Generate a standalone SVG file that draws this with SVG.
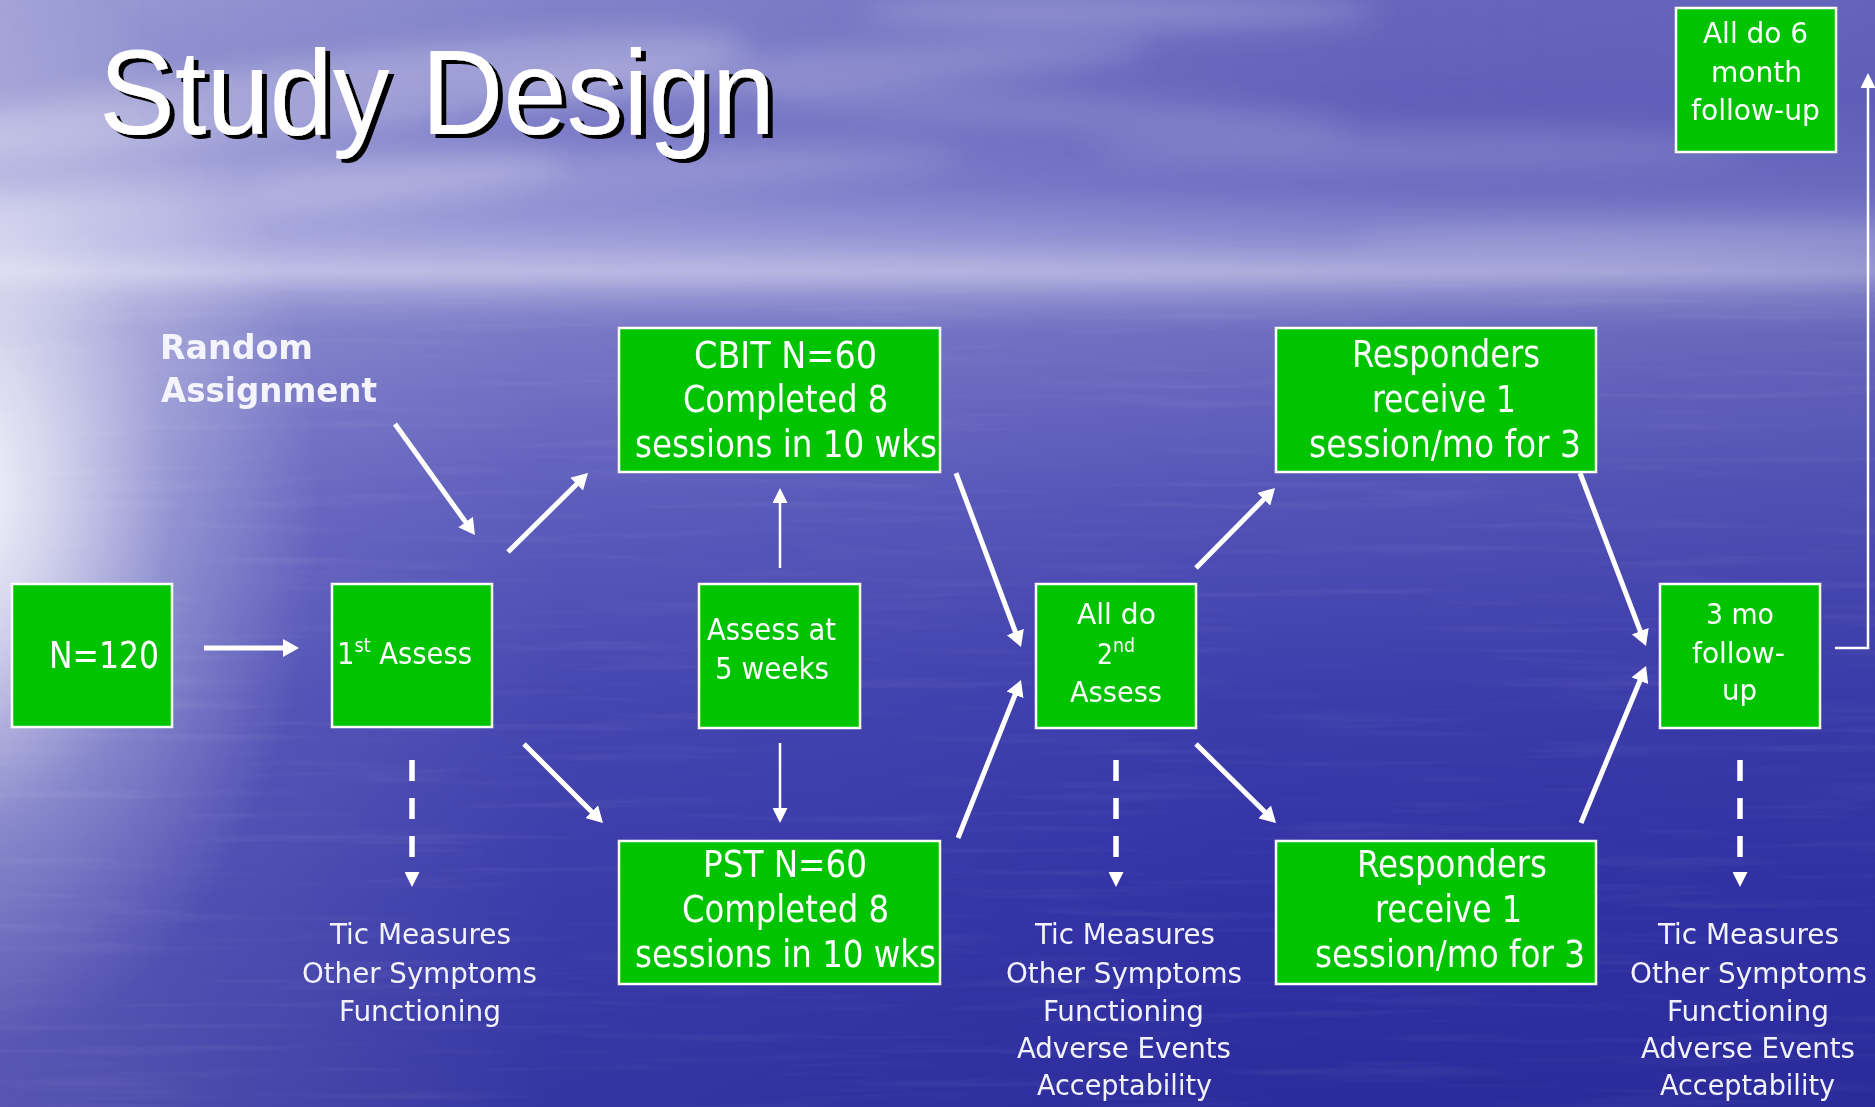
<svg xmlns="http://www.w3.org/2000/svg" width="1875" height="1107" viewBox="0 0 1875 1107">
  <defs>
    <style>
      .box { fill: #00c400; stroke: #ffffff; stroke-width: 2.5; }
      .bt { font-family: "DejaVu Sans Condensed", "DejaVu Sans", sans-serif; font-stretch: condensed; fill: #ffffff; }
      .big { font-size: 37px; }
      .mid { font-size: 31px; }
      .sm { font-size: 29px; }
      .sup { font-size: 20px; }
      .note { font-family: "DejaVu Sans Condensed", "DejaVu Sans", sans-serif; font-stretch: condensed; font-size: 29px; fill: #f2f2fb; }
      .thick { fill: none; stroke: #ffffff; stroke-width: 5; }
      .thin { fill: none; stroke: #ffffff; stroke-width: 2.5; }
      .dash { fill: none; stroke: #ffffff; stroke-width: 5.5; stroke-dasharray: 21 17; }
    </style>
    <linearGradient id="sky" x1="0" y1="0" x2="0" y2="1107" gradientUnits="userSpaceOnUse">
      <stop offset="0" stop-color="#8686cc"/>
      <stop offset="0.09" stop-color="#7878c6"/>
      <stop offset="0.17" stop-color="#8686cf"/>
      <stop offset="0.21" stop-color="#9c9cda"/>
      <stop offset="0.245" stop-color="#acacdf"/>
      <stop offset="0.265" stop-color="#8c8cd0"/>
      <stop offset="0.30" stop-color="#7272c4"/>
      <stop offset="0.45" stop-color="#5656ba"/>
      <stop offset="0.63" stop-color="#3e3eae"/>
      <stop offset="0.82" stop-color="#3232a6"/>
      <stop offset="1" stop-color="#2c2c9e"/>
    </linearGradient>
    <linearGradient id="sideShade" x1="0" y1="0" x2="1875" y2="0" gradientUnits="userSpaceOnUse">
      <stop offset="0" stop-color="#ffffff" stop-opacity="0.2"/>
      <stop offset="0.3" stop-color="#ffffff" stop-opacity="0.04"/>
      <stop offset="0.65" stop-color="#20208a" stop-opacity="0.05"/>
      <stop offset="1" stop-color="#20208a" stop-opacity="0.15"/>
    </linearGradient>
    <linearGradient id="topShade" x1="0" y1="0" x2="1875" y2="0" gradientUnits="userSpaceOnUse">
      <stop offset="0" stop-color="#3838aa" stop-opacity="0"/>
      <stop offset="0.35" stop-color="#3838aa" stop-opacity="0.12"/>
      <stop offset="0.75" stop-color="#3838aa" stop-opacity="0.35"/>
      <stop offset="1" stop-color="#3838aa" stop-opacity="0.3"/>
    </linearGradient>
    <linearGradient id="topFade" x1="0" y1="0" x2="0" y2="300" gradientUnits="userSpaceOnUse">
      <stop offset="0" stop-color="#ffffff" stop-opacity="1"/>
      <stop offset="0.6" stop-color="#ffffff" stop-opacity="0.7"/>
      <stop offset="1" stop-color="#ffffff" stop-opacity="0"/>
    </linearGradient>
    <mask id="topMask">
      <rect x="0" y="0" width="1875" height="300" fill="url(#topFade)"/>
    </mask>
    <radialGradient id="glow" cx="-50" cy="500" r="1" gradientUnits="userSpaceOnUse" gradientTransform="translate(-50 500) scale(370 560) translate(50 -500)">
      <stop offset="0" stop-color="#ffffff" stop-opacity="0.98"/>
      <stop offset="0.28" stop-color="#ffffff" stop-opacity="0.68"/>
      <stop offset="0.6" stop-color="#ffffff" stop-opacity="0.26"/>
      <stop offset="1" stop-color="#ffffff" stop-opacity="0"/>
    </radialGradient>
    <filter id="soft" x="-30%" y="-200%" width="160%" height="500%">
      <feGaussianBlur stdDeviation="14"/>
    </filter>
    <filter id="ripple" x="0" y="0" width="100%" height="100%">
      <feTurbulence type="fractalNoise" baseFrequency="0.004 0.09" numOctaves="3" seed="7"/>
      <feColorMatrix type="matrix" values="0 0 0 0 1  0 0 0 0 1  0 0 0 0 1  0 0 0 1.4 -0.72"/>
    </filter>
    <filter id="dropShadow" x="-5%" y="-20%" width="115%" height="150%">
      <feOffset in="SourceAlpha" dx="5" dy="4" result="off"/>
      <feFlood flood-color="#000000"/>
      <feComposite in2="off" operator="in" result="shadow"/>
      <feMerge>
        <feMergeNode in="shadow"/>
        <feMergeNode in="SourceGraphic"/>
      </feMerge>
    </filter>
    <marker id="headThick" markerUnits="userSpaceOnUse" markerWidth="17" markerHeight="18" refX="6" refY="9" orient="auto">
      <path d="M0,0 L16,9 L0,18 z" fill="#ffffff"/>
    </marker>
    <marker id="headThin" markerUnits="userSpaceOnUse" markerWidth="16" markerHeight="15" refX="5" refY="7.5" orient="auto">
      <path d="M0,0 L15,7.5 L0,15 z" fill="#ffffff"/>
    </marker>
    <marker id="headDash" markerUnits="userSpaceOnUse" markerWidth="16" markerHeight="15" refX="0" refY="7.5" orient="auto">
      <path d="M0,0 L15,7.5 L0,15 z" fill="#ffffff"/>
    </marker>
  </defs>

  <!-- sky, horizon and sea backdrop -->
  <g id="backdrop">
    <rect x="0" y="0" width="1875" height="1107" fill="url(#sky)"/>
    <rect x="0" y="0" width="1875" height="1107" fill="url(#sideShade)"/>
    <rect x="0" y="0" width="1875" height="300" fill="url(#topShade)" mask="url(#topMask)"/>
    <g filter="url(#soft)" fill="#ffffff">
      <ellipse cx="330" cy="95" rx="420" ry="38" opacity="0.26" transform="rotate(-7 330 95)"/>
      <ellipse cx="250" cy="190" rx="320" ry="30" opacity="0.2" transform="rotate(-5 250 190)"/>
      <ellipse cx="820" cy="70" rx="330" ry="22" opacity="0.18" transform="rotate(-4 820 70)"/>
      <ellipse cx="1120" cy="12" rx="260" ry="16" opacity="0.22"/>
      <ellipse cx="1050" cy="110" rx="300" ry="18" opacity="0.14" transform="rotate(3 1050 110)"/>
      <ellipse cx="1420" cy="150" rx="330" ry="20" opacity="0.12"/>
      <ellipse cx="600" cy="175" rx="360" ry="20" opacity="0.16" transform="rotate(-3 600 175)"/>
      <ellipse cx="940" cy="275" rx="960" ry="18" opacity="0.2"/>
      <ellipse cx="1650" cy="240" rx="300" ry="14" opacity="0.16"/>
    </g>
    <rect x="0" y="290" width="1875" height="817" filter="url(#ripple)" opacity="0.11"/>
    <rect x="0" y="0" width="1875" height="1107" fill="url(#glow)"/>
  </g>

  <!-- heading -->
  <g id="title">
    <text x="99" y="134" font-family="'Liberation Sans', Arial, sans-serif" font-size="120" fill="#ffffff" textLength="676" lengthAdjust="spacingAndGlyphs" filter="url(#dropShadow)">Study Design</text>
  </g>

  <g id="random-assignment" font-family="'DejaVu Sans', sans-serif" font-weight="bold" font-size="33" fill="#f4f4fc">
    <text x="160" y="359" textLength="153" lengthAdjust="spacingAndGlyphs">Random</text>
    <text x="161" y="402" textLength="216" lengthAdjust="spacingAndGlyphs">Assignment</text>
  </g>

  <!-- connectors -->
  <g id="connectors">
    <path class="thick" d="M204,648 L289,648" marker-end="url(#headThick)"/>
    <path class="thick" d="M395,424 L469.1,526.9" marker-end="url(#headThick)"/>
    <path class="thick" d="M508,552 L580.9,480" marker-end="url(#headThick)"/>
    <path class="thick" d="M524,744 L595.9,815.9" marker-end="url(#headThick)"/>
    <path class="thick" d="M956,473 L1017.5,637.6" marker-end="url(#headThick)"/>
    <path class="thick" d="M958,838 L1017.3,689.3" marker-end="url(#headThick)"/>
    <path class="thick" d="M1196,568 L1268,495.1" marker-end="url(#headThick)"/>
    <path class="thick" d="M1196,744 L1268.9,816" marker-end="url(#headThick)"/>
    <path class="thick" d="M1580,473 L1642.4,636.7" marker-end="url(#headThick)"/>
    <path class="thick" d="M1581,823 L1642.2,675.2" marker-end="url(#headThick)"/>
    <path class="thin" d="M780,568 L780,498" marker-end="url(#headThin)"/>
    <path class="thin" d="M780,743 L780,813" marker-end="url(#headThin)"/>
    <path class="thin" d="M1835,648 L1868,648 L1868,83" marker-end="url(#headThin)"/>
    <path class="dash" d="M412,760 L412,872" marker-end="url(#headDash)"/>
    <path class="dash" d="M1116,760 L1116,872" marker-end="url(#headDash)"/>
    <path class="dash" d="M1740,760 L1740,872" marker-end="url(#headDash)"/>
  </g>

  <!-- process boxes -->
  <g id="n120">
    <rect class="box" x="12" y="584" width="160" height="143"/>
    <text class="bt big" x="49" y="668" textLength="110" lengthAdjust="spacingAndGlyphs">N=120</text>
  </g>

  <g id="assess1">
    <rect class="box" x="332" y="584" width="160" height="143"/>
    <text class="bt mid" x="337" y="664" textLength="135" lengthAdjust="spacingAndGlyphs">1<tspan class="sup" dy="-12">st</tspan><tspan dy="12"> Assess</tspan></text>
  </g>

  <g id="cbit">
    <rect class="box" x="619" y="328" width="321" height="144"/>
    <text class="bt big" x="694" y="368" textLength="183" lengthAdjust="spacingAndGlyphs">CBIT N=60</text>
    <text class="bt big" x="683" y="412" textLength="205" lengthAdjust="spacingAndGlyphs">Completed 8</text>
    <text class="bt big" x="635" y="457" textLength="302" lengthAdjust="spacingAndGlyphs">sessions in 10 wks</text>
  </g>

  <g id="assess5">
    <rect class="box" x="699" y="584" width="161" height="144"/>
    <text class="bt mid" x="707" y="640" textLength="129" lengthAdjust="spacingAndGlyphs">Assess at</text>
    <text class="bt mid" x="715" y="679" textLength="114" lengthAdjust="spacingAndGlyphs">5 weeks</text>
  </g>

  <g id="pst">
    <rect class="box" x="619" y="841" width="321" height="143"/>
    <text class="bt big" x="703" y="877" textLength="164" lengthAdjust="spacingAndGlyphs">PST N=60</text>
    <text class="bt big" x="682" y="922" textLength="207" lengthAdjust="spacingAndGlyphs">Completed 8</text>
    <text class="bt big" x="635" y="967" textLength="301" lengthAdjust="spacingAndGlyphs">sessions in 10 wks</text>
  </g>

  <g id="assess2">
    <rect class="box" x="1036" y="584" width="160" height="144"/>
    <text class="bt sm" x="1077" y="624" textLength="79" lengthAdjust="spacingAndGlyphs">All do</text>
    <text class="bt sm" x="1097" y="664" textLength="38" lengthAdjust="spacingAndGlyphs">2<tspan class="sup" dy="-12">nd</tspan></text>
    <text class="bt sm" x="1070" y="702" textLength="92" lengthAdjust="spacingAndGlyphs">Assess</text>
  </g>

  <g id="responders-top">
    <rect class="box" x="1276" y="328" width="320" height="144"/>
    <text class="bt big" x="1352" y="367" textLength="188" lengthAdjust="spacingAndGlyphs">Responders</text>
    <text class="bt big" x="1372" y="412" textLength="144" lengthAdjust="spacingAndGlyphs">receive 1</text>
    <text class="bt big" x="1309" y="457" textLength="272" lengthAdjust="spacingAndGlyphs">session/mo for 3</text>
  </g>

  <g id="responders-bottom">
    <rect class="box" x="1276" y="841" width="320" height="143"/>
    <text class="bt big" x="1357" y="877" textLength="190" lengthAdjust="spacingAndGlyphs">Responders</text>
    <text class="bt big" x="1375" y="922" textLength="147" lengthAdjust="spacingAndGlyphs">receive 1</text>
    <text class="bt big" x="1315" y="967" textLength="270" lengthAdjust="spacingAndGlyphs">session/mo for 3</text>
  </g>

  <g id="followup3">
    <rect class="box" x="1660" y="584" width="160" height="144"/>
    <text class="bt sm" x="1706" y="624" textLength="68" lengthAdjust="spacingAndGlyphs">3 mo</text>
    <text class="bt sm" x="1692" y="663" textLength="93" lengthAdjust="spacingAndGlyphs">follow-</text>
    <text class="bt sm" x="1722" y="700" textLength="35" lengthAdjust="spacingAndGlyphs">up</text>
  </g>

  <g id="followup6">
    <rect class="box" x="1676" y="8" width="160" height="144"/>
    <text class="bt sm" x="1703" y="43" textLength="105" lengthAdjust="spacingAndGlyphs">All do 6</text>
    <text class="bt sm" x="1711" y="82" textLength="91" lengthAdjust="spacingAndGlyphs">month</text>
    <text class="bt sm" x="1691" y="120" textLength="129" lengthAdjust="spacingAndGlyphs">follow-up</text>
  </g>

  <!-- measures collected at each assessment -->
  <g id="measures1">
    <text class="note" x="330" y="944" textLength="181" lengthAdjust="spacingAndGlyphs">Tic Measures</text>
    <text class="note" x="302" y="983" textLength="235" lengthAdjust="spacingAndGlyphs">Other Symptoms</text>
    <text class="note" x="339" y="1021" textLength="162" lengthAdjust="spacingAndGlyphs">Functioning</text>
  </g>

  <g id="measures2">
    <text class="note" x="1035" y="944" textLength="180" lengthAdjust="spacingAndGlyphs">Tic Measures</text>
    <text class="note" x="1006" y="983" textLength="236" lengthAdjust="spacingAndGlyphs">Other Symptoms</text>
    <text class="note" x="1043" y="1021" textLength="161" lengthAdjust="spacingAndGlyphs">Functioning</text>
    <text class="note" x="1017" y="1058" textLength="214" lengthAdjust="spacingAndGlyphs">Adverse Events</text>
    <text class="note" x="1037" y="1095" textLength="175" lengthAdjust="spacingAndGlyphs">Acceptability</text>
  </g>

  <g id="measures3">
    <text class="note" x="1658" y="944" textLength="181" lengthAdjust="spacingAndGlyphs">Tic Measures</text>
    <text class="note" x="1630" y="983" textLength="237" lengthAdjust="spacingAndGlyphs">Other Symptoms</text>
    <text class="note" x="1667" y="1021" textLength="162" lengthAdjust="spacingAndGlyphs">Functioning</text>
    <text class="note" x="1641" y="1058" textLength="214" lengthAdjust="spacingAndGlyphs">Adverse Events</text>
    <text class="note" x="1660" y="1095" textLength="175" lengthAdjust="spacingAndGlyphs">Acceptability</text>
  </g>
</svg>
